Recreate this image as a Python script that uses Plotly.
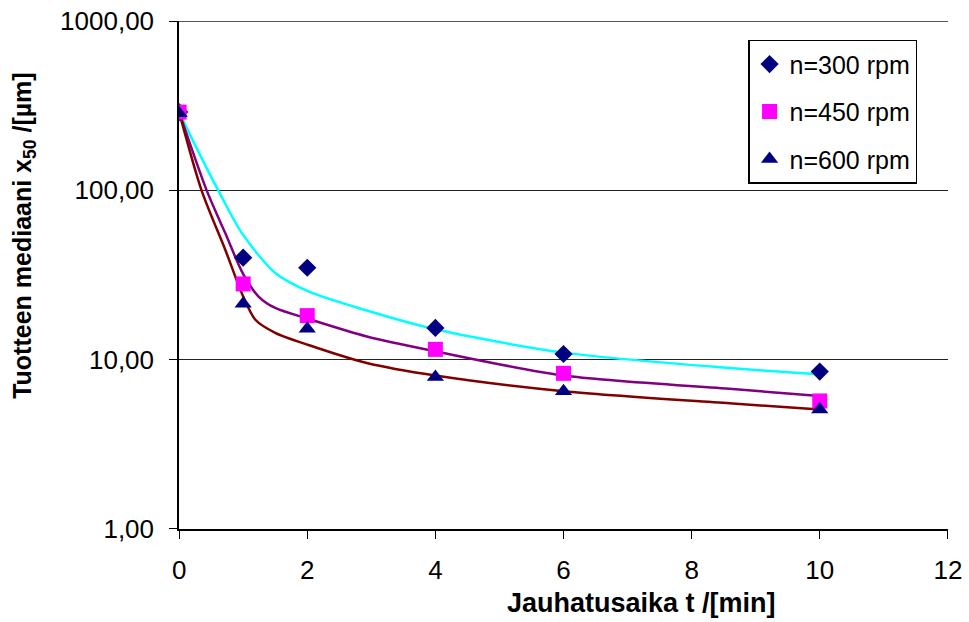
import plotly.graph_objects as go

# measured data
t = [0, 1, 2, 4, 6, 10]
x50_300 = [290, 40, 34.9, 15.4, 10.8, 8.5]
x50_450 = [290, 28, 18.2, 11.5, 8.3, 5.7]
x50_600 = [285, 21.4, 15.2, 7.9, 6.5, 5.07]

# fitted curves
fit_t_300 = [0, 0.25, 0.61, 0.98, 1.5, 2.02, 2.93, 4, 6, 8.64, 10]
fit_300 = [290, 185, 100, 55.9, 32.5, 25.3, 19.5, 15.1, 11.0, 8.9, 8.2]
fit_t_450 = [0, 0.43, 0.72, 1.0, 1.24, 1.5, 2.02, 2.93, 4, 6, 8.64, 10]
fit_450 = [290, 100, 55.9, 32, 23.6, 20.2, 17.4, 13.7, 11.2, 8.05, 6.7, 6.1]
fit_t_600 = [0, 0.35, 0.72, 1.0, 1.19, 1.5, 2.02, 2.93, 4, 6, 8.64, 10]
fit_600 = [290, 100, 44.6, 23.6, 17.2, 14.4, 12.2, 9.55, 8.05, 6.5, 5.5, 5.07]

y_tickvals = [1, 10, 100, 1000]
y_ticktext = ["1,00", "10,00", "100,00", "1000,00"]
x_tickvals = [0, 2, 4, 6, 8, 10, 12]

fig = go.Figure()
for tx, fy, col in [(fit_t_300, fit_300, "#00FFFF"),
                    (fit_t_450, fit_450, "#800080"),
                    (fit_t_600, fit_600, "#800000")]:
    fig.add_trace(go.Scatter(x=tx, y=fy, mode="lines", showlegend=False,
                             line=dict(color=col, width=2.5, shape="spline", smoothing=0.8),
                             hoverinfo="skip"))

fig.add_trace(go.Scatter(x=t, y=x50_300, mode="markers", name="n=300 rpm", legendgroup="a",
                         marker=dict(symbol="diamond", color="#000080", size=14)))
fig.add_trace(go.Scatter(x=t, y=x50_450, mode="markers", name="n=450 rpm", legendgroup="b",
                         marker=dict(symbol="square", color="#FF00FF", size=15)))
fig.add_trace(go.Scatter(x=t, y=x50_600, mode="markers", name="n=600 rpm", legendgroup="c",
                         marker=dict(symbol="triangle-up", color="#000080", size=15)))

font = "Liberation Sans, Arial, sans-serif"
fig.update_layout(
    width=969, height=622,
    margin=dict(l=179, r=21, t=21, b=93),
    plot_bgcolor="white", paper_bgcolor="white",
    font=dict(family=font, color="black", size=26),
    legend=dict(x=0.74, y=0.963, xanchor="left", yanchor="top",
                bordercolor="black", borderwidth=1.5, bgcolor="white",
                font=dict(size=25), tracegroupgap=12, traceorder="grouped",
                itemwidth=30),
    xaxis=dict(range=[-0.002, 12.002], tickvals=x_tickvals, showgrid=False, zeroline=False,
               showline=True, linecolor="black", linewidth=1.5, automargin=False,
               ticks="outside", ticklen=8, tickcolor="black", ticklabelstandoff=9,
               ticklabeloverflow="allow", tickfont=dict(size=26)),
    yaxis=dict(type="log", range=[-0.0005, 3.0005], tickvals=y_tickvals, ticktext=y_ticktext,
               showgrid=True, gridcolor="#222222", gridwidth=1.2,
               showline=True, linecolor="black", linewidth=1.5, automargin=False,
               ticks="outside", ticklen=8, tickcolor="black", ticklabelstandoff=10,
               ticklabeloverflow="allow", tickfont=dict(size=26)),
    shapes=[dict(type="line", xref="paper", yref="y", x0=0, x1=1,
                 y0=y_tickvals[-1], y1=y_tickvals[-1],
                 line=dict(color="#222222", width=1.2))],
    annotations=[
        dict(text="<b>Jauhatusaika t /[min]</b>", xref="paper", yref="paper",
             x=0.601, y=-0.1457, xanchor="center", yanchor="middle",
             showarrow=False, font=dict(size=27)),
        dict(text="<b>Tuotteen mediaani x<sub>50</sub> /[µm]</b>", xref="paper", yref="paper",
             x=-0.2016, y=0.579, xanchor="center", yanchor="middle", textangle=-90,
             showarrow=False, font=dict(size=25)),
    ],
)

fig.write_html("out.html", config={"displayModeBar": False},
               post_script="document.body.style.margin='0';")
